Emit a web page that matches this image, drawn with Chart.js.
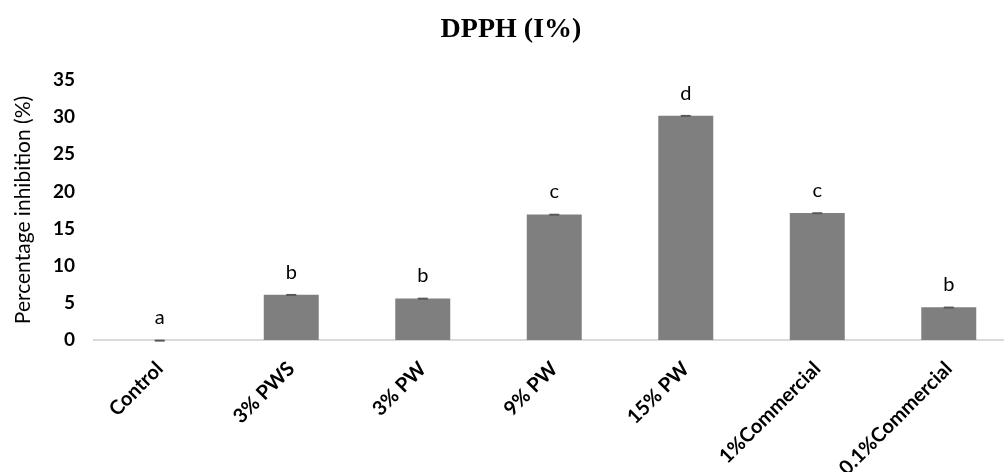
<!DOCTYPE html>
<html>
<head>
<meta charset="utf-8">
<title>DPPH (I%)</title>
<script src="https://cdn.jsdelivr.net/npm/chart.js@4"></script>
<style>
  html, body { margin: 0; padding: 0; background: #fff; }
  #wrap { width: 1004px; height: 472px; position: relative; }
</style>
</head>
<body>
<div id="wrap"><canvas id="dpph-chart"></canvas></div>
<script>
const categories = ['Control', '3% PWS', '3% PW', '9% PW', '15% PW', '1%Commercial', '0.1%Commercial'];
const inhibition = [0, 6.1, 5.6, 16.9, 30.2, 17.1, 4.4];
const errors = [0.05, 0.1, 0.1, 0.1, 0.1, 0.1, 0.1];
const groupLetters = ['a', 'b', 'b', 'c', 'd', 'c', 'b'];
const yTicks = [0, 5, 10, 15, 20, 25, 30, 35];

document.addEventListener('DOMContentLoaded', function() {
    const bodyFont = "Lato, 'Open Sans', sans-serif";

    // the original plot runs past the right edge, so the x range stops short of the last band
    const xMin = -0.5;
    const xMax = 6.42;

    // error caps and significance letters on top of each bar
    const barExtras = {
        id: 'barExtras',
        afterDatasetsDraw(chart) {
            const ctx = chart.ctx;
            const x = chart.scales.x;
            const y = chart.scales.y;
            ctx.save();
            inhibition.forEach((v, i) => {
                const cx = x.getPixelForValue(i);
                const yHi = y.getPixelForValue(v + errors[i]);
                const yLo = y.getPixelForValue(Math.max(0, v - errors[i]));
                ctx.fillStyle = '#595959';
                ctx.fillRect(cx - 5, yHi, 10, Math.max(2, yLo - yHi));
                ctx.fillStyle = '#000';
                ctx.font = "20px " + bodyFont;
                ctx.textAlign = 'center';
                ctx.textBaseline = 'alphabetic';
                ctx.fillText(groupLetters[i], cx, y.getPixelForValue(v) - 16);
            });
            ctx.restore();
        }
    };

    const titleText = {
        id: 'titleText',
        afterDraw(chart) {
            const ctx = chart.ctx;
            ctx.save();
            ctx.fillStyle = '#000';
            ctx.font = "bold 28px 'Liberation Serif', 'Times New Roman', serif";
            ctx.textAlign = 'center';
            ctx.textBaseline = 'alphabetic';
            ctx.fillText('DPPH (I%)', 511, 37);
            ctx.restore();
        }
    };

    new Chart(document.getElementById('dpph-chart'), {
        type: 'bar',
        data: {
            datasets: [{
                label: 'DPPH (I%)',
                data: inhibition.map((v, i) => ({ x: i, y: v })),
                backgroundColor: '#7f7f7f',
                borderWidth: 0,
                barPercentage: 0.418,
                categoryPercentage: 1
            }]
        },
        options: {
            responsive: true,
            maintainAspectRatio: false,
            animation: false,
            layout: { padding: { top: 80, right: 0, left: 0, bottom: 0 } },
            plugins: {
                legend: { display: false },
                title: { display: false },
                tooltip: { enabled: false }
            },
            scales: {
                x: {
                    type: 'linear',
                    offset: false,
                    min: xMin,
                    max: xMax,
                    afterBuildTicks(scale) { scale.ticks = categories.map((c, i) => ({ value: i })); },
                    grid: { display: false, drawTicks: false, offset: false },
                    border: { display: true, color: '#d9d9d9', width: 2 },
                    ticks: {
                        autoSkip: false,
                        minRotation: 45,
                        maxRotation: 45,
                        padding: 17,
                        color: '#000',
                        callback: value => categories[value],
                        font: { family: bodyFont, size: 20, weight: 'bold' }
                    },
                    afterFit(scale) { scale.height = 132; }
                },
                y: {
                    min: 0,
                    max: 35,
                    afterBuildTicks(scale) { scale.ticks = yTicks.map(v => ({ value: v })); },
                    grid: { display: false, drawTicks: false },
                    border: { display: false },
                    ticks: {
                        padding: 19,
                        color: '#000',
                        font: { family: bodyFont, size: 19, weight: 'bold' }
                    },
                    title: {
                        display: true,
                        text: 'Percentage inhibition (%)',
                        color: '#000',
                        padding: { top: 11, bottom: 0 },
                        font: { family: bodyFont, size: 21 }
                    },
                    afterFit(scale) { scale.width = 94; }
                }
            }
        },
        plugins: [barExtras, titleText]
    });
});
</script>
</body>
</html>
